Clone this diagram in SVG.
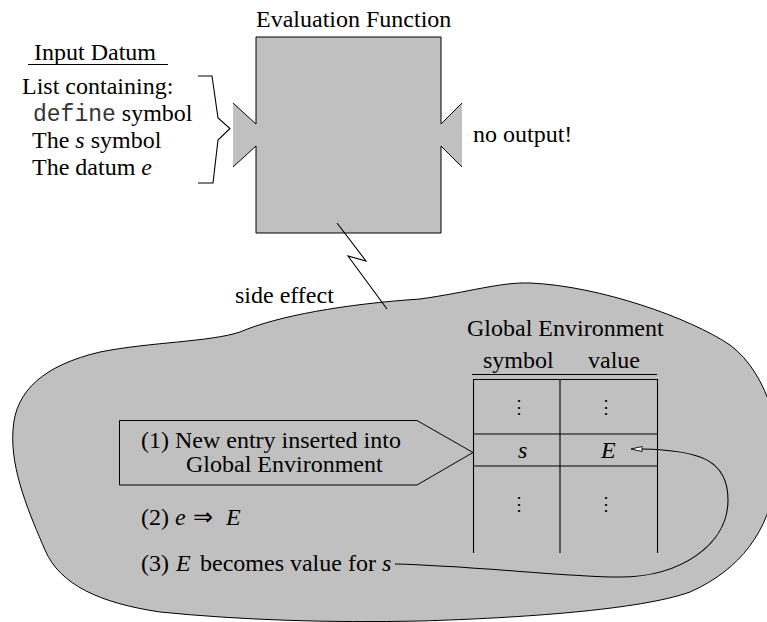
<svg xmlns="http://www.w3.org/2000/svg" width="767" height="622" viewBox="0 0 767 622" font-family="Liberation Serif, serif" font-size="24">
  <style>
    .fill { fill: #c0c0c0; stroke: none; }
    .edge { fill: none; stroke: #000; stroke-width: 1; }
    .shape { fill: #c0c0c0; stroke: #000; stroke-width: 1; }
    .line { fill: none; stroke: #000; stroke-width: 1.1; }
  </style>

  <!-- shared area of the global environment -->
  <g id="environment-cloud">
    <path class="shape" d="M 420 299 C 470 292, 500 282, 530 283 C 600 286, 690 318, 730 345 C 770 375, 785 440, 775 480 C 770 530, 740 570, 690 592 C 640 610, 520 618, 420 621 C 330 623, 240 620, 160 612 C 100 603, 60 585, 45 550 C 30 515, 10 470, 13 430 C 15 390, 45 365, 100 352 C 150 342, 210 342, 240 332 C 277 316, 345 304, 420 299 Z"/>
  </g>

  <!-- evaluation function box with input and output ports -->
  <g id="eval-function">
    <text font-family="Liberation Serif, serif" x="256" y="27">Evaluation Function</text>
    <path class="fill" d="M256,37 H441 V124 L462,103 V167 L441,146 V233 H256 V146 L233,167 V103 L256,124 Z"/>
    <path class="edge" d="M256,124 V37 H441 V124 L462,103"/>
    <path class="edge" d="M462,167 L441,146 V233 H256 V146 L233,167"/>
    <path class="edge" d="M233,103 L256,124"/>
  </g>

  <!-- input datum description -->
  <g id="input-datum">
    <text font-family="Liberation Serif, serif" x="34" y="59.5">Input Datum</text>
    <line class="line" x1="28" y1="64.5" x2="168" y2="64.5"/>
    <text font-family="Liberation Serif, serif" x="22" y="94">List containing:</text>
    <text font-family="Liberation Serif, serif" x="33" y="121"><tspan font-family="Liberation Mono, monospace" font-size="23" fill="#333">define</tspan> symbol</text>
    <text font-family="Liberation Serif, serif" x="32" y="148">The <tspan font-style="italic">s</tspan> symbol</text>
    <text font-family="Liberation Serif, serif" x="32" y="175">The datum <tspan font-style="italic">e</tspan></text>
    <path class="line" d="M198,76 H212 L218,118 L230,128.5 L218,140 L213,183 H198"/>
  </g>

  <g id="output-label">
    <text font-family="Liberation Serif, serif" x="473" y="142">no output!</text>
  </g>

  <g id="side-effect-label">
    <text font-family="Liberation Serif, serif" x="235" y="303">side effect</text>
  </g>

  <!-- global environment table -->
  <g id="global-env-table">
    <text font-family="Liberation Serif, serif" x="467" y="336">Global Environment</text>
    <text font-family="Liberation Serif, serif" x="483" y="368">symbol</text>
    <text font-family="Liberation Serif, serif" x="588" y="368">value</text>
    <line class="line" x1="472" y1="374.5" x2="657" y2="374.5"/>
    <path class="line" d="M473.5,553 V379.5 H657.5 V553 M560,379.5 V553 M473.5,434 H657.5 M473.5,466 H657.5"/>
    <text font-family="Liberation Serif, serif" font-size="18" text-anchor="middle" x="519" y="413">⋮</text>
    <text font-family="Liberation Serif, serif" font-size="18" text-anchor="middle" x="606" y="413">⋮</text>
    <text font-family="Liberation Serif, serif" font-size="18" text-anchor="middle" x="519" y="510">⋮</text>
    <text font-family="Liberation Serif, serif" font-size="18" text-anchor="middle" x="606" y="510">⋮</text>
    <text font-family="Liberation Serif, serif" font-style="italic" x="518" y="458">s</text>
    <text font-family="Liberation Serif, serif" font-style="italic" x="601" y="458">E</text>
  </g>

  <!-- step 1: new entry -->
  <g id="step-1">
    <path class="shape" d="M119.5,420.5 H417 L473,452.5 L417,485 H119.5 Z"/>
    <text font-family="Liberation Serif, serif" x="141" y="448">(1) New entry inserted into</text>
    <text font-family="Liberation Serif, serif" x="186" y="472">Global Environment</text>
  </g>

  <!-- step 2: evaluation of the datum -->
  <g id="step-2">
    <text font-family="Liberation Serif, serif" x="141" y="525">(2) <tspan font-style="italic" x="175">e</tspan><tspan x="193">⇒</tspan><tspan font-style="italic" x="226">E</tspan></text>
  </g>

  <!-- step 3: binding -->
  <g id="step-3">
    <text font-family="Liberation Serif, serif" x="141" y="571">(3) <tspan font-style="italic" x="176">E</tspan><tspan x="200">becomes value for </tspan><tspan font-style="italic">s</tspan></text>
  </g>

  <g id="connectors">
    <polyline class="line" points="337,223 366,261 348,256 387,309"/>
    <path class="line" d="M395,564 C480,566 560,577 620,577 C680,577 728,545 728,500 C728,460 700,450 641,449"/>
    <path d="M631,449 L642,446.5 L642,451.5 Z" fill="#fff" stroke="#000" stroke-width="0.9"/>
  </g>
</svg>
